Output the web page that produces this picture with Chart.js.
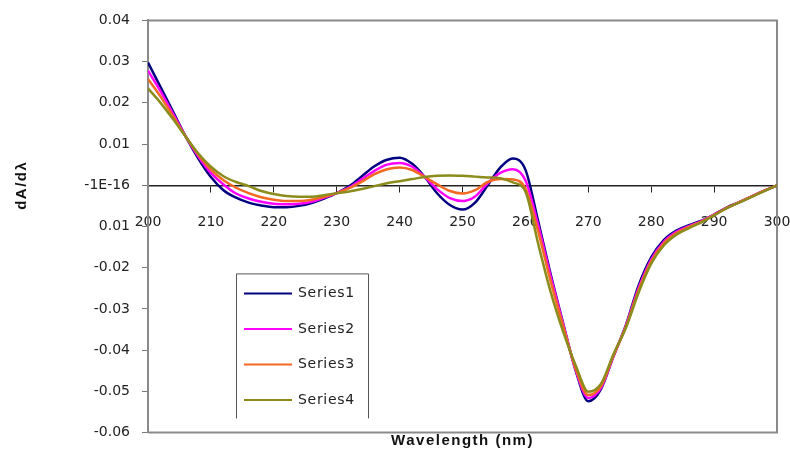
<!DOCTYPE html>
<html><head><meta charset="utf-8">
<script src="https://cdn.jsdelivr.net/npm/chart.js@4/dist/chart.umd.min.js"></script>
<style>html,body{margin:0;padding:0;background:#fff;}#wrap{width:790px;height:453px;}</style>
</head><body><div id="wrap"><canvas id="c" width="790" height="453"></canvas></div>
<script>
const wavelengths = [200,202,204,206,208,210,212,214,216,218,220,222,224,226,228,230,232,234,236,238,240,242,244,246,248,250,252,254,256,258,260,262,264,266,268,270,272,274,276,278,280,282,284,286,288,290,292,294,296,298,300];
const series1 = [0.0298,0.0238,0.0178,0.0118,0.0065,0.0020,-0.0012,-0.0030,-0.0042,-0.0049,-0.0053,-0.0053,-0.0050,-0.0043,-0.0032,-0.0019,-0.0002,0.0022,0.0046,0.0062,0.0067,0.0052,0.0020,-0.0020,-0.0048,-0.0059,-0.0042,0.0000,0.0043,0.0065,0.0038,-0.0085,-0.0215,-0.0335,-0.0450,-0.0524,-0.0495,-0.0415,-0.0338,-0.0243,-0.0175,-0.0133,-0.0110,-0.0097,-0.0086,-0.0071,-0.0054,-0.0041,-0.0027,-0.0013,0.0000];
const series2 = [0.0278,0.0228,0.0173,0.0118,0.0070,0.0030,0.0002,-0.0020,-0.0032,-0.0040,-0.0045,-0.0046,-0.0045,-0.0040,-0.0030,-0.0019,-0.0005,0.0015,0.0035,0.0050,0.0054,0.0045,0.0020,-0.0010,-0.0031,-0.0038,-0.0027,0.0005,0.0030,0.0039,0.0012,-0.0095,-0.0220,-0.0337,-0.0448,-0.0516,-0.0492,-0.0415,-0.0340,-0.0249,-0.0180,-0.0137,-0.0113,-0.0099,-0.0087,-0.0071,-0.0055,-0.0041,-0.0027,-0.0013,0.0000];
const series3 = [0.0258,0.0215,0.0167,0.0118,0.0074,0.0038,0.0012,-0.0006,-0.0019,-0.0029,-0.0035,-0.0038,-0.0038,-0.0035,-0.0028,-0.0019,-0.0007,0.0009,0.0027,0.0039,0.0043,0.0037,0.0020,0.0002,-0.0014,-0.0020,-0.0012,0.0008,0.0015,0.0014,-0.0008,-0.0110,-0.0232,-0.0342,-0.0445,-0.0509,-0.0488,-0.0413,-0.0342,-0.0254,-0.0185,-0.0141,-0.0116,-0.0101,-0.0088,-0.0072,-0.0055,-0.0041,-0.0027,-0.0013,0.0000];
const series4 = [0.0235,0.0200,0.0160,0.0118,0.0077,0.0045,0.0022,0.0008,-0.0002,-0.0014,-0.0021,-0.0026,-0.0028,-0.0028,-0.0024,-0.0019,-0.0015,-0.0009,-0.0002,0.0005,0.0010,0.0015,0.0020,0.0023,0.0024,0.0023,0.0021,0.0019,0.0017,0.0007,-0.0015,-0.0140,-0.0258,-0.0355,-0.0437,-0.0501,-0.0482,-0.0410,-0.0345,-0.0260,-0.0190,-0.0146,-0.0120,-0.0104,-0.0090,-0.0073,-0.0056,-0.0042,-0.0028,-0.0014,0.0000];
const seriesNames = ['Series1','Series2','Series3','Series4'];
const seriesColors = ['#000080','#ff00ff','#f26a21','#8c8c1c'];
const yTickValues = [0.04,0.03,0.02,0.01,0,-0.01,-0.02,-0.03,-0.04,-0.05,-0.06];
const yTickLabels = ['0.04','0.03','0.02','0.01','-1E-16','0.01','-0.02','-0.03','-0.04','-0.05','-0.06'];
const xTickValues = [200,210,220,230,240,250,260,270,280,290,300];
const xTickLabels = ['200','210','220','230','240','250','260','270','280','290','300'];
const xTitle = 'Wavelength (nm)';
const yTitle = 'dA/d\u03bb';

const allSeries = [series1, series2, series3, series4];
const datasets = allSeries.map((s, k) => ({
  label: seriesNames[k],
  data: s.map((v, i) => ({x: wavelengths[i], y: v})),
  borderColor: seriesColors[k],
  backgroundColor: seriesColors[k],
  borderWidth: 2.5,
  pointRadius: 0,
  cubicInterpolationMode: 'monotone',
  fill: false,
  order: 3 - k
}));

const tickFont = {family: 'DejaVu Sans', size: 14};

const decor = {
  id: 'decor',
  beforeInit(chart) { chart.ctx.letterSpacing = '1px'; },
  beforeDatasetsDraw(chart) {
    const {ctx, chartArea: a} = chart;
    ctx.save();
    ctx.strokeStyle = '#8a8a8a';
    ctx.lineWidth = 2;
    ctx.beginPath();
    ctx.moveTo(a.left, a.top); ctx.lineTo(a.right, a.top); ctx.lineTo(a.right, a.bottom); ctx.lineTo(a.left, a.bottom);
    ctx.stroke();
    ctx.restore();
  },
  afterDatasetsDraw(chart) {
    const {ctx, chartArea: a} = chart;
    const bx = a.left + 88, by = a.top + 253, bw = 132, bh = 145;
    ctx.save();
    ctx.fillStyle = '#fff';
    ctx.fillRect(bx, by, bw, bh);
    ctx.strokeStyle = '#555';
    ctx.lineWidth = 1;
    ctx.beginPath();
    ctx.moveTo(bx + 0.5, by + bh); ctx.lineTo(bx + 0.5, by + 0.5); ctx.lineTo(bx + bw + 0.5, by + 0.5); ctx.lineTo(bx + bw + 0.5, by + bh);
    ctx.stroke();
    ctx.letterSpacing = '0.7px';
    ctx.font = '14px "DejaVu Sans"';
    ctx.textBaseline = 'middle';
    ctx.textAlign = 'left';
    chart.data.datasets.forEach((ds, i) => {
      const y = by + 20 + i * 35.5;
      ctx.strokeStyle = ds.borderColor;
      ctx.lineWidth = 2;
      ctx.beginPath(); ctx.moveTo(bx + 8, y); ctx.lineTo(bx + 56, y); ctx.stroke();
      ctx.fillStyle = '#222';
      ctx.fillText(ds.label, bx + 62, y);
    });
    ctx.restore();
  },
  afterDraw(chart) {
    const {ctx, chartArea: a} = chart;
    ctx.save();
    ctx.fillStyle = '#111';
    ctx.letterSpacing = '1.5px';
    ctx.font = 'bold 15px "Liberation Sans"';
    ctx.textAlign = 'center';
    ctx.textBaseline = 'middle';
    ctx.fillText(xTitle, (a.left + a.right) / 2, a.bottom + 8);
    ctx.translate(22, chart.scales.y.getPixelForValue(0));
    ctx.rotate(-Math.PI / 2);
    ctx.fillText(yTitle, 0, 0);
    ctx.restore();
  }
};

new Chart(document.getElementById('c'), {
  type: 'line',
  data: {datasets},
  plugins: [decor],
  options: {
    responsive: false,
    animation: false,
    devicePixelRatio: 1,
    layout: {padding: {left: 0, right: 13, top: 20, bottom: 15}},
    plugins: {legend: {display: false}, tooltip: {enabled: false}},
    scales: {
      x: {
        type: 'linear',
        min: 200, max: 300,
        position: {y: 0},
        afterBuildTicks: s => { s.ticks = xTickValues.map(v => ({value: v})); },
        afterFit: s => { s.height = 0; s.paddingLeft = 0; s.paddingRight = 0; },
        ticks: {
          color: '#222', font: tickFont, padding: 23, maxRotation: 0, autoSkip: false,
          callback: (v, i) => xTickLabels[i]
        },
        grid: {display: true, drawOnChartArea: false, drawTicks: true, tickLength: 6, color: '#222', lineWidth: 1},
        border: {display: true, color: '#222', width: 1.5}
      },
      y: {
        type: 'linear',
        min: -0.06, max: 0.04,
        position: 'left',
        afterBuildTicks: s => { s.ticks = yTickValues.map(v => ({value: v})); },
        afterFit: s => { s.width = 148; },
        ticks: {
          color: '#222', font: tickFont, padding: 12, autoSkip: false,
          callback: (v, i) => yTickLabels[i]
        },
        grid: {display: true, drawOnChartArea: false, drawTicks: true, tickLength: 6, color: '#777', lineWidth: 1},
        border: {display: true, color: '#8a8a8a', width: 2}
      }
    }
  }
});
</script>
</body></html>
